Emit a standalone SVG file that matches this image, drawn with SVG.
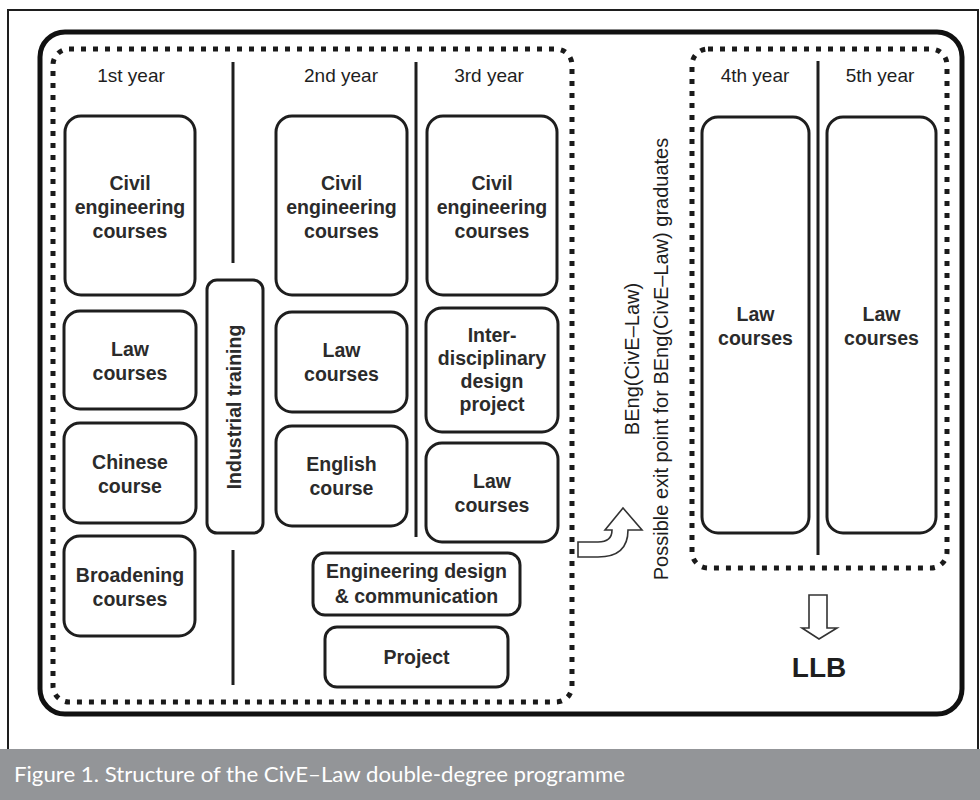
<svg xmlns="http://www.w3.org/2000/svg" width="980" height="800" viewBox="0 0 980 800">
<style>
.box{fill:#fff;stroke:#1e1e1e;stroke-width:3}
.bt{font-family:"Liberation Sans",Arial,sans-serif;font-weight:bold;font-size:19.5px;fill:#2b2b2b;text-anchor:middle}
.yr{font-family:"Liberation Sans",Arial,sans-serif;font-size:19px;fill:#1e1e1e;text-anchor:middle}
.rt{font-family:"Liberation Sans",Arial,sans-serif;font-size:20px;fill:#1e1e1e;text-anchor:middle}
.dot{fill:none;stroke:#1a1a1a;stroke-width:5;stroke-dasharray:5 7}
.ln{stroke:#1e1e1e;stroke-width:3}
.arr{fill:#fff;stroke:#333;stroke-width:1.6;stroke-linejoin:miter}
</style>
<rect x="0" y="0" width="980" height="800" fill="#fff"/>
<g id="frame">
<path d="M8,749 L8,10 L978,10 L978,749" fill="none" stroke="#1e1e1e" stroke-width="2"/>
<rect x="0" y="749" width="980" height="51" fill="#939598"/>
<text x="14" y="782" font-family="Lato,'Open Sans',sans-serif" font-size="21" fill="#fff" textLength="611" lengthAdjust="spacingAndGlyphs">Figure 1. Structure of the CivE–Law double-degree programme</text>
<rect x="40" y="32" width="922" height="682" rx="25" fill="none" stroke="#111" stroke-width="5"/>
</g>
<g id="bachelor-block">
<rect class="dot" x="53" y="49" width="519" height="653" rx="16"/>
<text class="yr" x="131" y="82">1st year</text>
<text class="yr" x="341" y="82">2nd year</text>
<text class="yr" x="489" y="82">3rd year</text>
</g>
<g id="law-block">
<rect class="dot" x="692" y="49" width="255" height="519" rx="16"/>
<text class="yr" x="755" y="82">4th year</text>
<text class="yr" x="880" y="82">5th year</text>
</g>
<g id="dividers">
<line class="ln" x1="233" y1="62" x2="233" y2="263"/>
<line class="ln" x1="233" y1="550" x2="233" y2="685"/>
<line class="ln" x1="416" y1="62" x2="416" y2="537"/>
<line class="ln" x1="818" y1="61" x2="818" y2="555"/>
</g>
<g id="y1-civil"><rect class="box" x="65" y="116" width="130" height="179" rx="16"/>
<text class="bt" x="130" y="190">Civil</text><text class="bt" x="130" y="214">engineering</text><text class="bt" x="130" y="238">courses</text></g>
<g id="y1-law"><rect class="box" x="64" y="311" width="132" height="98" rx="16"/>
<text class="bt" x="130" y="356">Law</text><text class="bt" x="130" y="380">courses</text></g>
<g id="y1-chinese"><rect class="box" x="64" y="423" width="132" height="100" rx="16"/>
<text class="bt" x="130" y="469">Chinese</text><text class="bt" x="130" y="493">course</text></g>
<g id="y1-broadening"><rect class="box" x="64" y="536" width="131" height="100" rx="16"/>
<text class="bt" x="130" y="582">Broadening</text><text class="bt" x="130" y="606">courses</text></g>
<g id="industrial"><rect class="box" x="207" y="280" width="56" height="253" rx="10"/>
<text class="bt" transform="translate(241,407) rotate(-90)">Industrial training</text></g>
<g id="y2-civil"><rect class="box" x="276" y="116" width="131" height="179" rx="16"/>
<text class="bt" x="341.5" y="190">Civil</text><text class="bt" x="341.5" y="214">engineering</text><text class="bt" x="341.5" y="238">courses</text></g>
<g id="y2-law"><rect class="box" x="276" y="312" width="131" height="100" rx="16"/>
<text class="bt" x="341.5" y="357">Law</text><text class="bt" x="341.5" y="381">courses</text></g>
<g id="y2-english"><rect class="box" x="276" y="426" width="131" height="100" rx="16"/>
<text class="bt" x="341.5" y="471">English</text><text class="bt" x="341.5" y="495">course</text></g>
<g id="y3-civil"><rect class="box" x="427" y="116" width="130" height="179" rx="16"/>
<text class="bt" x="492" y="190">Civil</text><text class="bt" x="492" y="214">engineering</text><text class="bt" x="492" y="238">courses</text></g>
<g id="y3-idp"><rect class="box" x="426" y="308" width="132" height="124" rx="16"/>
<text class="bt" x="492" y="342">Inter-</text><text class="bt" x="492" y="365">disciplinary</text><text class="bt" x="492" y="388">design</text><text class="bt" x="492" y="411">project</text></g>
<g id="y3-law"><rect class="box" x="426" y="443" width="132" height="99" rx="16"/>
<text class="bt" x="492" y="488">Law</text><text class="bt" x="492" y="512">courses</text></g>
<g id="eng-design"><rect class="box" x="313" y="553" width="207" height="62" rx="12"/>
<text class="bt" x="416.5" y="578">Engineering design</text><text class="bt" x="416.5" y="603">&amp; communication</text></g>
<g id="project"><rect class="box" x="325" y="627" width="183" height="60" rx="12"/>
<text class="bt" x="416.5" y="664">Project</text></g>
<g id="y4-law"><rect class="box" x="702" y="117" width="107" height="416" rx="16"/>
<text class="bt" x="755.5" y="321">Law</text><text class="bt" x="755.5" y="345">courses</text></g>
<g id="y5-law"><rect class="box" x="827" y="117" width="109" height="416" rx="16"/>
<text class="bt" x="881.5" y="321">Law</text><text class="bt" x="881.5" y="345">courses</text></g>
<g id="exit-label">
<text class="rt" transform="translate(639,359) rotate(-90)">BEng(CivE–Law)</text>
<text class="rt" transform="translate(668,359) rotate(-90)">Possible exit point for BEng(CivE–Law) graduates</text>
</g>
<g id="llb-label">
<text x="819" y="677" font-family="Liberation Sans,Arial,sans-serif" font-weight="bold" font-size="28" fill="#1e1e1e" text-anchor="middle">LLB</text>
</g>
<g id="connectors">
<path class="arr" d="M578,542 L598,542 Q612,542 612,530 L605,530 L623,508 L642,530 L628,530 Q628,557 598,557 L578,557 Z"/>
<path class="arr" d="M809,595 L827,595 L827,628 L837,628 L819,639 L802,628 L809,628 Z"/>
</g>
</svg>
